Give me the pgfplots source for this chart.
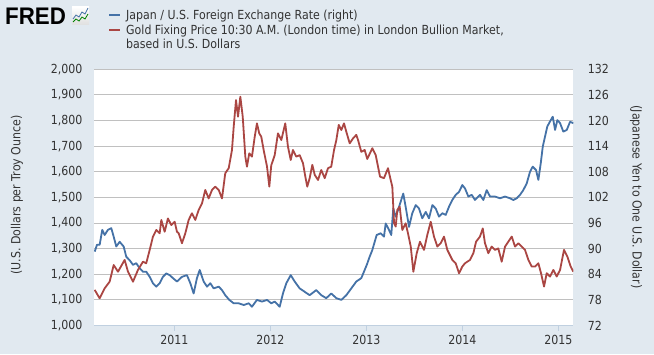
\documentclass[border=0pt]{standalone}
\usepackage{pgfplots}
\pgfplotsset{compat=1.18}
\usepackage{fontspec}
\setmainfont{DejaVu Sans}[FakeStretch=0.88]
\newfontfamily\logofont{Liberation Sans}
\definecolor{bg}{HTML}{E1E9F0}
\definecolor{jpblue}{HTML}{4572A7}
\definecolor{goldred}{HTML}{AA4643}
\definecolor{txt}{HTML}{333333}
\definecolor{gridc}{HTML}{C0C0C0}
\definecolor{axisc}{HTML}{C0D0E0}
\pgfplotstableread{
t v
2010.171 1139
2010.223 1106
2010.275 1145
2010.327 1171
2010.369 1236
2010.414 1210
2010.483 1256
2010.518 1210
2010.570 1171
2010.622 1217
2010.674 1249
2010.708 1243
2010.744 1295
2010.778 1347
2010.813 1373
2010.848 1360
2010.865 1412
2010.900 1366
2010.934 1418
2010.969 1392
2011.004 1405
2011.028 1366
2011.046 1360
2011.080 1321
2011.115 1360
2011.150 1412
2011.184 1438
2011.219 1412
2011.254 1451
2011.289 1477
2011.323 1529
2011.358 1496
2011.393 1529
2011.427 1542
2011.463 1529
2011.497 1496
2011.531 1594
2011.567 1614
2011.601 1685
2011.619 1776
2011.643 1880
2011.664 1815
2011.688 1893
2011.713 1815
2011.740 1659
2011.757 1620
2011.781 1672
2011.809 1659
2011.838 1737
2011.861 1789
2011.885 1750
2011.906 1737
2011.931 1685
2011.966 1620
2011.990 1542
2012.010 1625
2012.046 1665
2012.080 1750
2012.115 1724
2012.156 1789
2012.184 1698
2012.213 1646
2012.236 1685
2012.271 1659
2012.306 1665
2012.341 1633
2012.365 1581
2012.385 1542
2012.410 1575
2012.438 1627
2012.463 1588
2012.497 1568
2012.531 1607
2012.567 1575
2012.601 1614
2012.635 1620
2012.664 1685
2012.688 1724
2012.713 1783
2012.740 1763
2012.768 1789
2012.792 1756
2012.827 1711
2012.861 1730
2012.896 1744
2012.914 1724
2012.948 1678
2012.983 1685
2013.010 1650
2013.063 1692
2013.098 1665
2013.143 1581
2013.184 1575
2013.226 1614
2013.254 1568
2013.271 1542
2013.289 1399
2013.306 1386
2013.323 1451
2013.348 1464
2013.375 1373
2013.410 1399
2013.434 1360
2013.463 1308
2013.490 1210
2013.525 1282
2013.559 1327
2013.601 1295
2013.635 1353
2013.671 1405
2013.705 1347
2013.740 1308
2013.775 1321
2013.809 1347
2013.844 1295
2013.896 1256
2013.931 1243
2013.966 1204
2014.000 1230
2014.028 1243
2014.080 1256
2014.115 1282
2014.143 1327
2014.184 1347
2014.213 1379
2014.236 1321
2014.271 1282
2014.306 1308
2014.341 1295
2014.375 1301
2014.410 1249
2014.445 1308
2014.479 1327
2014.515 1347
2014.549 1308
2014.583 1321
2014.619 1308
2014.653 1295
2014.688 1256
2014.723 1230
2014.757 1230
2014.792 1243
2014.820 1204
2014.851 1152
2014.879 1204
2014.914 1191
2014.948 1217
2014.983 1191
2015.018 1217
2015.059 1295
2015.094 1269
2015.129 1230
2015.156 1210
}\gold
\pgfplotstableread{
t v
2010.171 89.3
2010.195 90.9
2010.223 90.9
2010.250 94.4
2010.275 93.2
2010.309 94.4
2010.344 94.8
2010.369 92.8
2010.396 90.5
2010.431 91.6
2010.473 90.5
2010.500 88.1
2010.535 87.3
2010.570 86.2
2010.604 86.6
2010.640 85.4
2010.674 84.6
2010.708 84.6
2010.744 83.4
2010.778 81.9
2010.813 81.1
2010.848 81.9
2010.882 83.4
2010.917 84.2
2010.952 83.8
2010.986 83.1
2011.028 82.3
2011.080 83.4
2011.132 83.8
2011.167 81.9
2011.202 79.5
2011.236 83.1
2011.265 85.0
2011.306 82.3
2011.341 81.1
2011.375 81.9
2011.410 80.7
2011.463 81.1
2011.497 80.3
2011.531 79.1
2011.573 78.0
2011.619 77.2
2011.671 77.2
2011.723 76.8
2011.775 77.2
2011.809 76.4
2011.861 78.0
2011.914 77.6
2011.966 78.0
2012.010 77.2
2012.046 77.6
2012.098 76.4
2012.132 79.5
2012.167 81.9
2012.213 83.8
2012.254 82.3
2012.306 80.7
2012.358 79.9
2012.410 79.1
2012.479 80.3
2012.531 79.1
2012.583 78.4
2012.635 79.5
2012.688 78.4
2012.740 78.0
2012.792 79.1
2012.844 80.7
2012.896 82.3
2012.948 83.1
2012.983 85.0
2013.010 86.5
2013.028 87.7
2013.063 89.7
2013.108 93.2
2013.150 93.6
2013.184 92.8
2013.202 95.9
2013.236 94.4
2013.260 93.2
2013.281 99.4
2013.306 97.5
2013.330 99.0
2013.358 101.0
2013.385 102.9
2013.410 99.8
2013.445 95.1
2013.479 98.3
2013.515 100.2
2013.549 99.4
2013.583 97.1
2013.619 98.6
2013.653 97.1
2013.688 100.2
2013.723 99.4
2013.757 97.5
2013.792 98.3
2013.827 97.9
2013.861 99.8
2013.896 101.4
2013.931 102.6
2013.966 103.3
2014.000 104.9
2014.028 104.1
2014.063 102.2
2014.098 102.6
2014.132 101.4
2014.184 102.6
2014.219 101.4
2014.254 103.7
2014.289 102.2
2014.341 102.2
2014.393 101.8
2014.445 102.2
2014.497 101.8
2014.531 101.4
2014.567 101.8
2014.601 102.6
2014.635 103.7
2014.671 105.3
2014.705 108.0
2014.733 109.2
2014.768 108.4
2014.792 106.1
2014.817 110.0
2014.838 113.9
2014.861 116.2
2014.885 118.6
2014.921 120.1
2014.942 120.9
2014.966 117.8
2014.990 120.1
2015.018 119.4
2015.052 117.4
2015.088 117.8
2015.122 119.7
2015.156 119.4
}\yen
\begin{document}
\begin{tikzpicture}[x=1bp,y=1bp]
\path[use as bounding box, fill=bg] (0,0) rectangle (654,354);
\pgfplotsset{
  common/.style={
    at={(94bp,28.5bp)}, anchor=south west, scale only axis,
    width=479.3bp, height=256.2bp,
    xmin=2010.164, xmax=2015.156,
    tick label style={font=\fontsize{12.5bp}{14bp}\selectfont, text=txt},
    /pgf/number format/assume math mode=true,
  }
}
\begin{axis}[common,
  ymin=72, ymax=132, ytick={72,78,...,132},
  axis background/.style={fill=white},
  axis x line*=bottom, axis y line*=right,
  x axis line style={draw=axisc, line width=1bp, -},
  y axis line style={draw=none},
  xtick={2011,2012,2013,2014,2015},
  xticklabels={2011,2012,2013,2014,2015},
  tick align=outside, major tick length=5bp,
  xtick style={draw=axisc, line width=1bp},
  ytick style={draw=none},
  ymajorgrids, major grid style={draw=gridc, line width=0.9bp},
  xticklabel style={yshift=-1bp},
  yticklabel style={xshift=6bp},
]
\addplot[jpblue, line width=1.8bp, line join=round] table[x=t,y=v] {\yen};
\end{axis}
\begin{axis}[common,
  ymin=1000, ymax=2000, ytick={1000,1100,...,2000},
  axis x line=none, axis y line*=left,
  y axis line style={draw=none},
  ytick style={draw=none},
  scaled y ticks=false,
  yticklabel style={/pgf/number format/.cd, 1000 sep={,}, /tikz/.cd, xshift=-8bp},
]
\addplot[goldred, line width=1.8bp, line join=round] table[x=t,y=v] {\gold};
\end{axis}
% header
\node[anchor=base west, inner sep=0pt, text=black] at (5,330) {\scalebox{0.93}[1]{\logofont\fontsize{24bp}{24bp}\selectfont\bfseries FRED}};
\shade[top color=white, bottom color=gray!25] (72,329) rectangle (89,347);
\draw[jpblue, line width=0.8bp] (73,335) -- (76,339) -- (79,337) -- (82,342) -- (85,340) -- (88,346);
\draw[green!50!black, line width=0.8bp] (73,332) -- (76,335) -- (79,333) -- (82,337) -- (85,335) -- (88,340);
\draw[jpblue, line width=2bp] (109,339) -- (120,339);
\draw[goldred, line width=2bp] (109,324) -- (120,324);
\begin{scope}[every node/.style={anchor=base west, inner sep=0pt, text=txt, font=\fontsize{12.5bp}{14bp}\selectfont}]
\node at (126,335) {Japan / U.S. Foreign Exchange Rate (right)};
\node at (126,320) {Gold Fixing Price 10:30 A.M. (London time) in London Bullion Market,};
\node at (126,305.5) {based in U.S. Dollars};
\end{scope}
\node[rotate=90, text=txt, font=\fontsize{12.5bp}{14bp}\selectfont] at (17,159) {(U.S. Dollars per Troy Ounce)};
\node[rotate=-90, text=txt, font=\fontsize{12.5bp}{14bp}\selectfont] at (636,157) {(Japanese Yen to One U.S. Dollar)};
\end{tikzpicture}
\end{document}
